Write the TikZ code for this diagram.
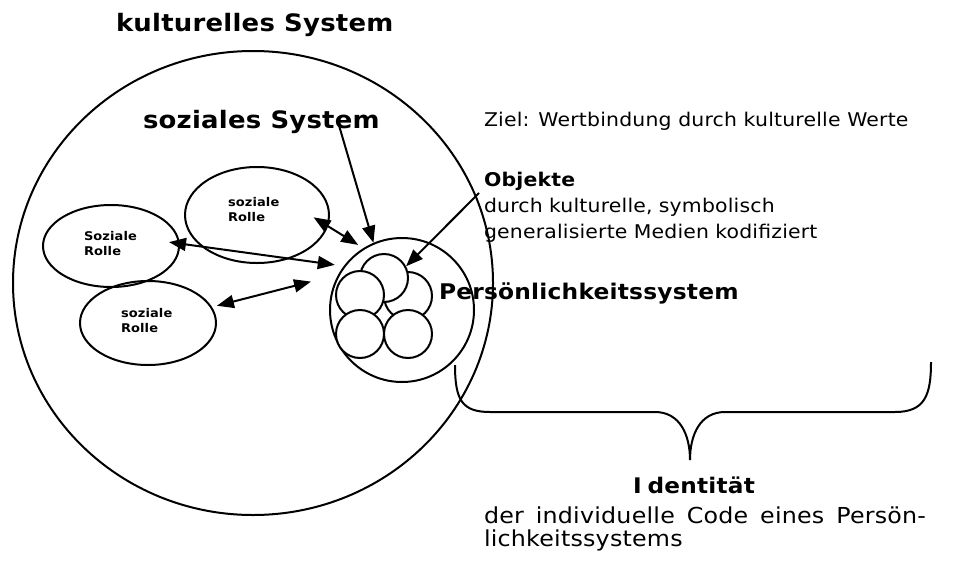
\documentclass[tikz,border=0pt]{standalone}
\usepackage{fontspec}
\setmainfont{DejaVu Sans}[FakeStretch=1.08,LetterSpace=1]
\usetikzlibrary{arrows.meta}
\usetikzlibrary{shapes.geometric}
\usetikzlibrary{positioning}

\begin{document}
\begin{tikzpicture}[x=1pt,y=-1pt,
    line width=2pt,
    rolle/.style={draw,ellipse,inner sep=0pt},
    kreis/.style={draw,circle,fill=white,inner sep=0pt,minimum size=48pt},
    txt/.style={anchor=base west,inner sep=0pt},
    rlabel/.style={txt,text width=70pt,align=left,font=\bfseries\fontsize{12}{15}\selectfont},
    titel/.style={txt,font=\bfseries\fontsize{24}{28}\selectfont},
    pfeil/.style={-{Triangle[length=17pt,width=13pt]}},
    wechsel/.style={{Triangle[length=17pt,width=13pt]}-{Triangle[length=17pt,width=13pt]}},
  ]
  \useasboundingbox (0,0) rectangle (974,565);

  \node[rolle,minimum width=480pt,minimum height=464pt] (kultur) at (253,283) {};
  \node[titel] (kulturtitel) at (115,31) {kulturelles System};
  \node[titel] (sozialtitel) at (142,128) {soziales System};
  \node[txt,font=\fontsize{18.9}{26}\selectfont] (ziel) at (483,126) {Ziel: Wertbindung durch kulturelle Werte};
  \node[txt,text width=420pt,align=left,font=\fontsize{18.9}{26}\selectfont] (objekte) at (483,186)
    {\textbf{Objekte}\\durch kulturelle, symbolisch\\generalisierte Medien kodifiziert};

  \node[rolle,minimum width=144pt,minimum height=96pt] (rolleA) at (257,215) {};
  \node[rolle,minimum width=136pt,minimum height=82pt] (rolleB) at (111,246) {};
  \node[rolle,minimum width=136pt,minimum height=84pt] (rolleC) at (148,323) {};
  \node[rlabel] (labelA) at (227,206) {soziale\\Rolle};
  \node[rlabel] (labelB) at (83,240) {Soziale\\Rolle};
  \node[rlabel] (labelC) at (120,317) {soziale\\Rolle};

  \node[draw,circle,inner sep=0pt,minimum size=144pt] (person) at (402,310) {};
  \node[kreis] (kreisB) at (408,296) {};
  \node[kreis] (kreisA) at (384,278) {};
  \node[kreis] (kreisC) at (360,295) {};
  \node[kreis] (kreisD) at (360,334) {};
  \node[kreis] (kreisE) at (408,334) {};
  \node[txt,font=\bfseries\fontsize{21.6}{26}\selectfont] (persontitel) at (438,299) {Persönlichkeitssystem};

  \coordinate (sozialpunkt) at (338,122);
  \coordinate (objektpunkt) at (479,193);
  \draw[pfeil] (sozialpunkt) -- (person.113.4);
  \draw[pfeil] (objektpunkt) -- (kreisA.28);
  \draw[wechsel,shorten <=-17pt,shorten >=6pt] (rolleA.-9.8) -- (person.122.5);
  \draw[wechsel,shorten <=-11pt,shorten >=9pt] (rolleB.2) -- (person.143.6);
  \draw[wechsel,shorten <=5pt,shorten >=28pt] (rolleC.14) -- (person.151.2);

  \draw (455,365) .. controls (455,400) and (462,412) .. (490,412) -- (655,412)
    .. controls (680,412) and (690,435) .. (690,460)
    .. controls (690,435) and (700,412) .. (725,412) -- (895,412)
    .. controls (925,412) and (931,395) .. (931,362);

  \node[txt,font=\bfseries\fontsize{21.5}{26}\selectfont] (identtitel) at (632,493) {I\kern6pt dentität};
  \node[txt,text width=442pt,align=justify,font=\fontsize{22}{23.5}\selectfont] (identtext) at (483,523)
    {der individuelle Code eines Persön-\linebreak lichkeitssystems};
\end{tikzpicture}
\end{document}
